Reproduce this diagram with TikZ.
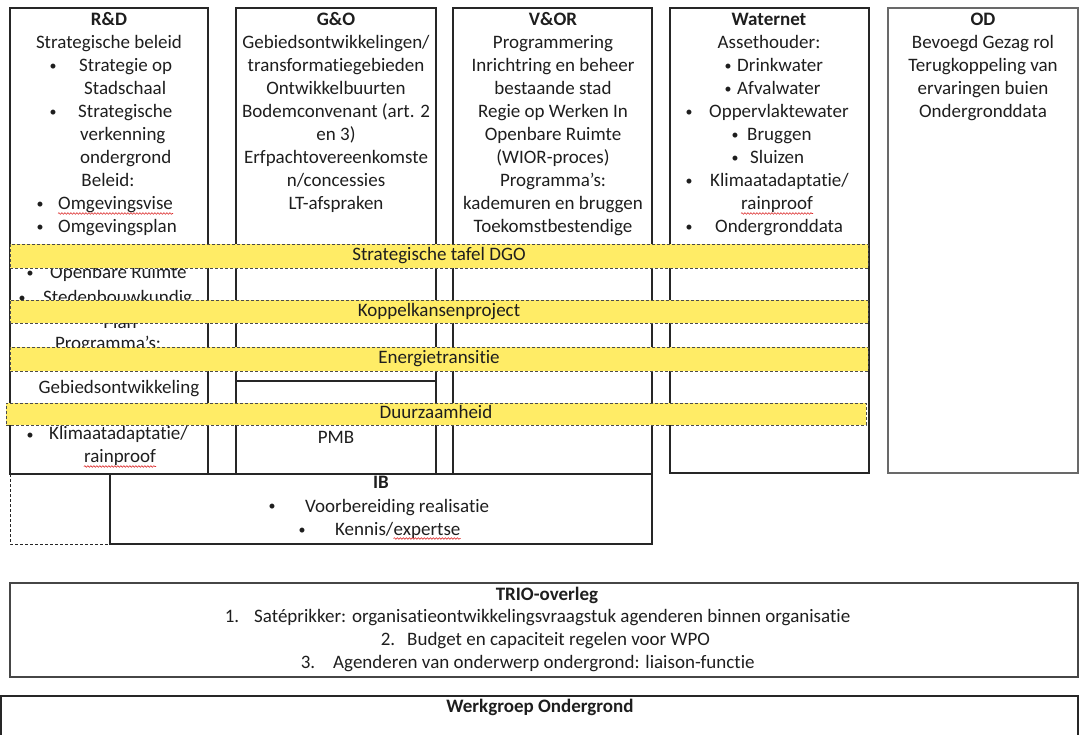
\documentclass[tikz,border=0pt]{standalone}
\usepackage{fontspec}
\setmainfont{Carlito}[Ligatures=CommonOff]
\usetikzlibrary{decorations.pathmorphing}

\definecolor{cframe}{RGB}{38,38,38}
\definecolor{codframe}{RGB}{105,105,105}
\definecolor{ctrio}{RGB}{70,70,70}
\definecolor{cband}{RGB}{255,236,102}
\definecolor{cbanddash}{RGB}{75,75,75}
\definecolor{cspell}{RGB}{220,45,45}
\definecolor{ctext}{RGB}{30,30,30}

\tikzset{
  boxframe/.style={draw=cframe, line width=1.2pt},
  odframe/.style={draw=codframe, line width=1.2pt},
  trioframe/.style={draw=ctrio, line width=1.2pt},
  ibdash/.style={draw=cframe, line width=1pt, dash pattern=on 3pt off 2pt},
  txt/.style={anchor=base, inner sep=0pt, text=ctext, font=\fontsize{19}{23}\selectfont},
  txtl/.style={txt, anchor=base west},
  bul/.style={txt, font=\fontsize{14}{23}\selectfont, yshift=1pt},
  hdr/.style={txt, font=\fontsize{19}{23}\selectfont\bfseries},
  band/.style={draw=cbanddash, fill=cband, line width=0.9pt, dash pattern=on 3pt off 2pt,
    inner sep=0pt, text height=14pt, text depth=4pt, text=ctext,
    font=\fontsize{19}{23}\selectfont},
  wavy/.style={draw=cspell, line width=0.6pt, decorate,
    decoration={snake, amplitude=0.8pt, segment length=3pt}},
}

\begin{document}
\begin{tikzpicture}[x=1pt,y=-1pt]
\useasboundingbox (0,0) rectangle (1080,735);

% ---- column frames ----
\draw[boxframe] (10,8) rectangle (208,474);
\draw[boxframe] (236,8) rectangle (436,474);
\draw[boxframe] (236,381) -- (436,381);
\draw[boxframe] (453,8) rectangle (652,474);
\draw[boxframe] (670,8) rectangle (869,473);
\draw[odframe] (888,8) rectangle (1078,473);

% ---- R&D ----
\node[hdr] (rd0) at (109,26) {R\&D};
\node[txt] (rd1) at (109,49) {Strategische beleid};
\node[bul] (rdb2) at (53,72) {•};
\node[txtl] (rd2) at (79,72) {Strategie op};
\node[txtl] (rd3) at (84,95) {Stadschaal};
\node[bul] (rdb4) at (53,118) {•};
\node[txtl] (rd4) at (78,118) {Strategische};
\node[txtl] (rd5) at (80,141) {verkenning};
\node[txtl] (rd6) at (80,164) {ondergrond};
\node[txt] (rd7) at (108,187) {Beleid:};
\node[bul] (rdb8) at (40,210) {•};
\node[txtl] (rd8) at (58,210) {Omgevingsvise};
\node[bul] (rdb9) at (40,233) {•};
\node[txtl] (rd9) at (58,233) {Omgevingsplan};
\node[bul] (rdb11) at (30,279) {•};
\node[txtl] (rd11) at (50,279) {Openbare Ruimte};
\node[bul] (rdb12) at (22,304) {•};
\node[txtl] (rd12) at (43,304) {Stedenbouwkundig};
\node[txt] (rd13) at (120,329) {Plan};
\node[txt] (rd14) at (108,350) {Programma’s:};
\node[txt] (rd16) at (119,394) {Gebiedsontwikkeling};
\node[bul] (rdb18) at (30,440) {•};
\node[txtl] (rd18) at (49,440) {Klimaatadaptatie/};
\node[txt] (rd19) at (120,463) {rainproof};
\draw[wavy] ([yshift=-3.5pt]rd8.base west) -- ([yshift=-3.5pt]rd8.base east);
\draw[wavy] ([yshift=-3.5pt]rd19.base west) -- ([yshift=-3.5pt]rd19.base east);

% ---- G&O ----
\node[hdr] (go0) at (336,26) {G\&O};
\node[txt] (go1) at (336,49) {Gebiedsontwikkelingen/};
\node[txt] (go2) at (336,72) {transformatiegebieden};
\node[txt] (go3) at (336,95) {Ontwikkelbuurten};
\node[txt] (go4) at (336,118) {Bodemconvenant (art. 2};
\node[txt] (go5) at (336,141) {en 3)};
\node[txt] (go6) at (336,164) {Erfpachtovereenkomste};
\node[txt] (go7) at (336,187) {n/concessies};
\node[txt] (go8) at (336,210) {LT-afspraken};
\node[txt] (go9) at (336,443) {PMB};

% ---- V&OR ----
\node[hdr] (vo0) at (553,26) {V\&OR};
\node[txt] (vo1) at (553,49) {Programmering};
\node[txt] (vo2) at (553,72) {Inrichtring en beheer};
\node[txt] (vo3) at (553,95) {bestaande stad};
\node[txt] (vo4) at (553,118) {Regie op Werken In};
\node[txt] (vo5) at (553,141) {Openbare Ruimte};
\node[txt] (vo6) at (553,164) {(WIOR-proces)};
\node[txt] (vo7) at (553,187) {Programma’s:};
\node[txt] (vo8) at (553,210) {kademuren en bruggen};
\node[txt] (vo9) at (553,233) {Toekomstbestendige};

% ---- Waternet ----
\node[hdr] (wn0) at (769,26) {Waternet};
\node[txt] (wn1) at (769,49) {Assethouder:};
\node[bul] (wnb2) at (728,72) {•};
\node[txtl] (wn2) at (737,72) {Drinkwater};
\node[bul] (wnb3) at (728,95) {•};
\node[txtl] (wn3) at (737,95) {Afvalwater};
\node[bul] (wnb4) at (689,118) {•};
\node[txtl] (wn4) at (709,118) {Oppervlaktewater};
\node[bul] (wnb5) at (735,141) {•};
\node[txtl] (wn5) at (747,141) {Bruggen};
\node[bul] (wnb6) at (735,164) {•};
\node[txtl] (wn6) at (750,164) {Sluizen};
\node[bul] (wnb7) at (689,187) {•};
\node[txtl] (wn7) at (710,187) {Klimaatadaptatie/};
\node[txtl] (wn8) at (741,210) {rainproof};
\node[bul] (wnb9) at (689,233) {•};
\node[txtl] (wn9) at (715,233) {Ondergronddata};
\draw[wavy] ([yshift=-3.5pt]wn8.base west) -- ([yshift=-3.5pt]wn8.base east);

% ---- OD ----
\node[hdr] (od0) at (983,26) {OD};
\node[txt] (od1) at (983,49) {Bevoegd Gezag rol};
\node[txt] (od2) at (983,72) {Terugkoppeling van};
\node[txt] (od3) at (983,95) {ervaringen buien};
\node[txt] (od4) at (983,118) {Ondergronddata};

% ---- cross-cutting bands ----
\node[band, minimum width=858pt, minimum height=24pt] (dgo) at (439,256) {Strategische tafel DGO};
\node[band, minimum width=858pt, minimum height=23pt] (kop) at (439,311.5) {Koppelkansenproject};
\node[band, minimum width=858pt, minimum height=24pt] (ene) at (439,359) {Energietransitie};
\node[band, minimum width=860pt, minimum height=22pt] (duu) at (436,414) {Duurzaamheid};

% ---- IB ----
\draw[boxframe] (110,474) rectangle (652,544);
\draw[ibdash] (10,474) -- (10,544) -- (110,544);
\node[hdr] (ib0) at (381,489) {IB};
\node[bul] (ibb1) at (272,512) {•};
\node[txtl] (ib1) at (305,512) {Voorbereiding realisatie};
\node[bul] (ibb2) at (302,535) {•};
\node[txtl] (ib2a) at (335,535) {Kennis/};
\node[txtl] (ib2b) at (ib2a.base east) {expertse};
\draw[wavy] ([yshift=-3.5pt]ib2b.base west) -- ([yshift=-3.5pt]ib2b.base east);

% ---- TRIO-overleg ----
\draw[trioframe] (10,583) rectangle (1078,677);
\node[hdr] (tr0) at (547,600) {TRIO-overleg};
\node[txt] (trn1) at (232,622) {1.};
\node[txtl] (tr1) at (254,622) {Satéprikker: organisatieontwikkelingsvraagstuk agenderen binnen organisatie};
\node[txt] (trn2) at (388,645) {2.};
\node[txtl] (tr2) at (407,645) {Budget en capaciteit regelen voor WPO};
\node[txt] (trn3) at (308,668) {3.};
\node[txtl] (tr3) at (333,668) {Agenderen van onderwerp ondergrond: liaison-functie};

% ---- Werkgroep Ondergrond ----
\draw[boxframe] (1,740) -- (1,696) -- (1078,696) -- (1078,740);
\node[hdr] (wg0) at (540,712) {Werkgroep Ondergrond};
\end{tikzpicture}
\end{document}
